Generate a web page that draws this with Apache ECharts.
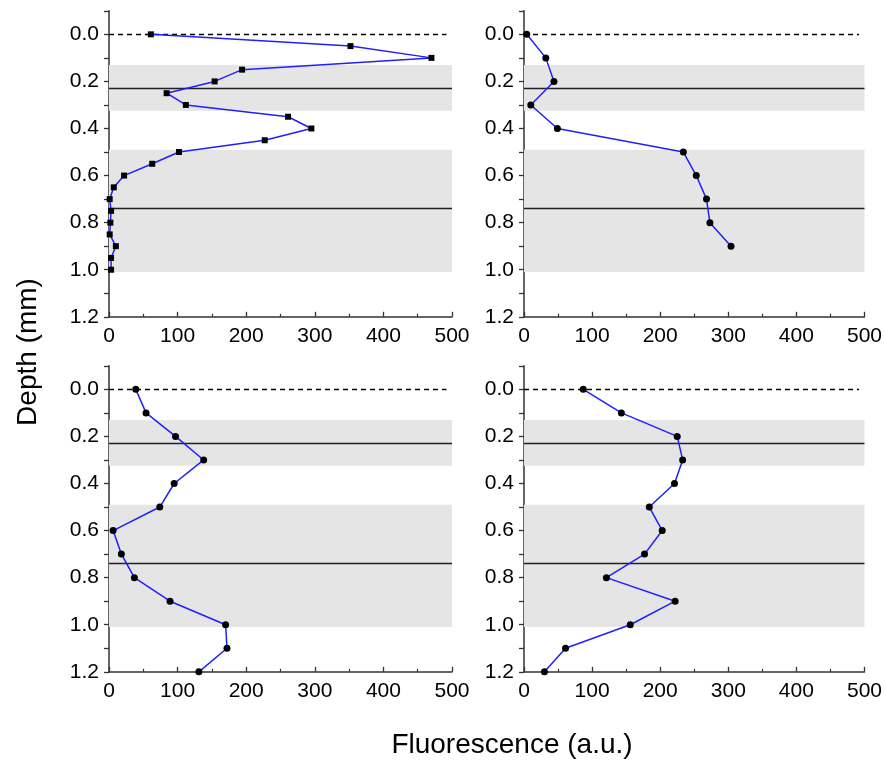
<!DOCTYPE html>
<html>
<head>
<meta charset="utf-8">
<script src="https://cdn.jsdelivr.net/npm/echarts@6/dist/echarts.min.js"></script>
<style>html,body{margin:0;padding:0;background:#fff}#c{width:885px;height:762px}</style>
</head>
<body>
<div id="c"></div>
<script>
// ---- data ----
const depthA = [0,0.05,0.1,0.15,0.2,0.25,0.3,0.35,0.4,0.45,0.5,0.55,0.6,0.65,0.7,0.75,0.8,0.85,0.9,0.95,1.0];
const fluorA = [61,352,470,194,154,84,112,261,295,227,102,63,22,7,1,3,2,1,10,3,3];
const depthB = [0,0.1,0.2,0.3,0.4,0.5,0.6,0.7,0.8,0.9];
const fluorB = [4,32,44,10,49,234,253,268,273,304];
const depthC = [0,0.1,0.2,0.3,0.4,0.5,0.6,0.7,0.8,0.9,1.0,1.1,1.2];
const fluorC = [39,54,97,138,95,74,6,18,37,89,170,172,131];
const depthD = [0,0.1,0.2,0.3,0.4,0.5,0.6,0.7,0.8,0.9,1.0,1.1,1.2];
const fluorD = [87,143,225,233,221,184,203,177,121,222,156,61,30];
const bands = [[0.13,0.325],[0.49,1.01]];
const solidLines = [0.225,0.743];
const dashedLine = 0;
const yTickLabels = [0,0.2,0.4,0.6,0.8,1.0,1.2];
const yTicks = [-0.1,0,0.1,0.2,0.3,0.4,0.5,0.6,0.7,0.8,0.9,1.0,1.1,1.2];
const xTitle = 'Fluorescence (a.u.)';
const yTitle = 'Depth (mm)';

const FONT = "'Liberation Sans', Arial, sans-serif";
const panels = [
  {d: depthA, f: fluorA, sym: 'rect', size: 6, left: 109, top: 10.8},
  {d: depthB, f: fluorB, sym: 'circle', size: 7, left: 524, top: 10.8},
  {d: depthC, f: fluorC, sym: 'circle', size: 7, left: 109, top: 365.8},
  {d: depthD, f: fluorD, sym: 'circle', size: 7, left: 524, top: 365.8}
];

const grids = [], xAxes = [], yAxes = [], series = [];
panels.forEach((p, i) => {
  grids.push({left: p.left, top: p.top, width: 343, height: 306});
  xAxes.push({
    type: 'value', gridIndex: i, min: 0, max: 500, interval: 100,
    axisLine: {show: true, onZero: false, lineStyle: {color: '#333', width: 1.5}},
    axisTick: {show: true, inside: true, length: 5, lineStyle: {color: '#333', width: 1.3}},
    minorTick: {show: true, splitNumber: 2, length: 3, lineStyle: {color: '#333', width: 1.2}},
    axisLabel: {color: '#000', fontSize: 21, fontFamily: FONT, margin: 9},
    splitLine: {show: false}
  });
  yAxes.push({
    type: 'value', gridIndex: i, min: -0.1, max: 1.2, inverse: true,
    axisLine: {show: true, onZero: false, lineStyle: {color: '#333', width: 1.5}},
    axisTick: {show: true, inside: false, length: 5, customValues: yTicks, lineStyle: {color: '#333', width: 1.3}},
    axisLabel: {color: '#000', fontSize: 21, fontFamily: FONT, margin: 10, customValues: yTickLabels,
      formatter: v => v.toFixed(1)},
    splitLine: {show: false}
  });
  series.push({
    type: 'line', xAxisIndex: i, yAxisIndex: i,
    data: p.d.map((dv, k) => [p.f[k], dv]),
    symbol: p.sym, symbolSize: p.size,
    itemStyle: {color: '#000'},
    lineStyle: {color: '#1f1fff', width: 1.5},
    z: 5,
    markArea: {
      silent: true,
      itemStyle: {color: '#e5e5e5'},
      data: bands.map(b => [{yAxis: b[0], xAxis: 0}, {yAxis: b[1], xAxis: 500}])
    },
    markLine: {
      silent: true, symbol: 'none', label: {show: false},
      data: [
        ...solidLines.map(v => ({yAxis: v, lineStyle: {color: '#222', width: 1.4, type: 'solid'}})),
        [{yAxis: dashedLine, xAxis: 0, lineStyle: {color: '#000', width: 1.3, type: [5, 4]}}, {yAxis: dashedLine, xAxis: 492}]
      ]
    }
  });
});

const chart = echarts.init(document.getElementById('c'), null, {renderer: 'canvas'});
chart.setOption({
  backgroundColor: '#fff',
  animation: false,
  grid: grids, xAxis: xAxes, yAxis: yAxes, series: series,
  graphic: [
    {type: 'text', x: 28, y: 352, rotation: Math.PI / 2,
      style: {text: yTitle, fontSize: 28, fontFamily: FONT, fill: '#000', align: 'center', verticalAlign: 'middle'}},
    {type: 'text', x: 512, y: 745,
      style: {text: xTitle, fontSize: 28, fontFamily: FONT, fill: '#000', align: 'center', verticalAlign: 'middle'}}
  ]
});
</script>
</body>
</html>
